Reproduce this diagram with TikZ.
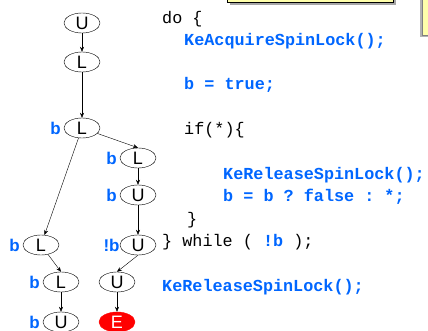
\documentclass[tikz,border=0pt]{standalone}
\usepackage{fontspec}
\setmainfont{Liberation Sans}
\setmonofont{Liberation Mono}
\usepackage{tikz}
\usetikzlibrary{shapes.geometric,arrows.meta}
\definecolor{predblue}{RGB}{0,102,255}
\definecolor{notepad}{RGB}{255,255,170}

\begin{document}
\begin{tikzpicture}
[x=1pt,y=-1pt,
 st/.style={ellipse,draw,thin,minimum width=36pt,minimum height=20pt,inner sep=0pt,font=\fontsize{18}{18}\selectfont},
 err/.style={st,draw=red,fill=red,text=white},
 pred/.style={font=\fontsize{17}{17}\selectfont\bfseries,text=predblue,inner sep=0pt},
 code/.style={anchor=west,inner sep=0pt,font=\fontsize{16.8}{16.8}\ttfamily},
 kw/.style={code,font=\fontsize{16.8}{16.8}\ttfamily\bfseries,text=predblue},
 tr/.style={-{Stealth[length=5pt,width=4pt]},thin}]
\useasboundingbox (0,0) rectangle (428,331);
% call-out boxes
\fill[gray!70] (230,-10) rectangle (396,5);
\filldraw[fill=notepad,draw=black] (227,-13) rectangle (393,2);
\fill[gray!60] (420,-5) rectangle (432,37);
\filldraw[fill=notepad,draw=gray] (422,-8) rectangle (434,35);
% states
\node[st] (u1) at (82,23) {U};
\node[st] (l2) at (82,62) {L};
\node[st] (l3) at (82,128) {L};
\node[st] (l4) at (138,158) {L};
\node[st] (u5) at (138,195) {U};
\node[st] (u6) at (138,245) {U};
\node[st] (u7) at (117,282) {U};
\node[err] (e8) at (117,322) {E};
\node[st] (l9) at (41,245) {L};
\node[st] (l10) at (61,282) {L};
\node[st] (u11) at (61,322) {U};
% predicate values
\node[pred,anchor=east] at (l3.west) {b\,};
\node[pred,anchor=east] at (l4.west) {b\,};
\node[pred,anchor=east] at (u5.west) {b\,};
\node[pred,anchor=east] at (u6.west) {!b};
\node[pred,anchor=east] at (l9.west) {b\,};
\node[pred,anchor=east] at (l10.west) {b\,};
\node[pred,anchor=east] at (u11.west) {b\,};
% transitions
\draw[tr] (u1) -- (l2);
\draw[tr] (l2) -- (l3);
\draw[tr] (l3) -- (l4.north);
\draw[tr] (l3) -- (l9);
\draw[tr] (l4) -- (u5);
\draw[tr] (u5) -- (u6);
\draw[tr] (u6.south) -- (u7.north);
\draw[tr] (u7) -- (e8);
\draw[tr] (l9) -- (l10.north);
\draw[tr] (l10) -- (u11);
% program
\node[code] (c1) at (162,19) {do \{};
\node[kw] (c2) at (184,41) {KeAcquireSpinLock();};
\node[kw] (c3) at (184,85) {b = true;};
\node[code] (c4) at (184,130) {if(*)\{};
\node[kw] (c5) at (223,175) {KeReleaseSpinLock();};
\node[kw] (c6) at (223,197) {b = b ? false : *;};
\node[code] (c7) at (187,220) {\}};
\node[code] (c8) at (162,242) {\} while ( \textcolor{predblue}{\bfseries !b} );};
\node[kw] (c9) at (162,287) {KeReleaseSpinLock();};
\end{tikzpicture}
\end{document}
